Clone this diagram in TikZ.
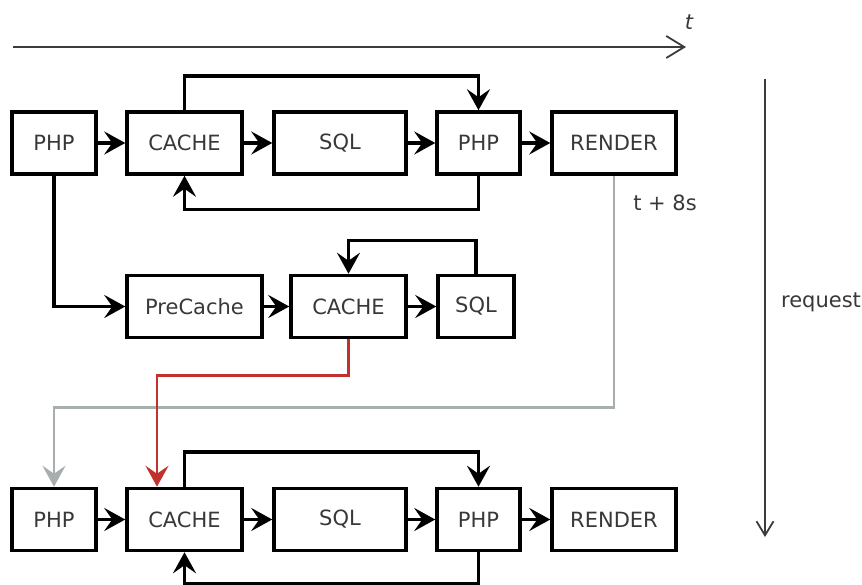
\documentclass[tikz,border=0pt]{standalone}
\usepackage{fontspec}
\setmainfont{DejaVu Sans}
\usetikzlibrary{arrows.meta}
\definecolor{txt}{HTML}{383838}
\definecolor{redc}{HTML}{C0322C}
\definecolor{grayc}{HTML}{A8AEAE}
\definecolor{axis}{HTML}{3C3C3C}
\begin{document}
\begin{tikzpicture}[x=1pt,y=-1pt,
  box/.style={draw=black, line width=3.5pt, minimum height=62pt, inner sep=0pt,
    font=\fontsize{21}{25}\selectfont, text=txt},
  conn/.style={line width=3.5pt, -{Stealth[length=21pt,width=23pt,inset=8pt]}},
  redconn/.style={draw=redc, line width=2.8pt, -{Stealth[length=21pt,width=23pt,inset=8pt]}},
  grayconn/.style={draw=grayc, line width=2.8pt, -{Stealth[length=21pt,width=23pt,inset=8pt]}},
  axisline/.style={draw=axis, line width=1.8pt, -{Straight Barb[length=18pt,width=22pt,line width=1.8pt]}},
  lbl/.style={font=\fontsize{21}{25}\selectfont, text=txt, inner sep=0pt}
]
\useasboundingbox (0,0) rectangle (862,585);

% time axis
\coordinate (tl0) at (13,47);
\coordinate (tl1) at (686,47);
\draw[axisline] (tl0) -- (tl1);
\node[lbl, font=\fontsize{21}{25}\selectfont\itshape] (tlab) at (689,22) {t};

% request axis
\coordinate (rq0) at (765,79);
\coordinate (rq1) at (765,537);
\draw[axisline, -{Straight Barb[length=14pt,width=17pt,line width=1.8pt]}] (rq0) -- (rq1);
\node[lbl] (rqlab) at (821,302) {request};

\node[lbl] (t8) at (665,203) {t + 8s};

% row 1
\node[box, minimum width=84pt]  (p1) at (54,143)    {PHP};
\node[box, minimum width=115pt] (c1) at (184.5,143) {CACHE};
\node[box, minimum width=132pt] (s1) at (340,143)   {SQL};
\node[box, minimum width=83pt]  (h1) at (478.5,143) {PHP};
\node[box, minimum width=124pt] (r1) at (614,143)   {RENDER};

% row 2
\node[box, minimum width=135pt] (pc) at (194.5,306.5) {PreCache};
\node[box, minimum width=115pt] (c2) at (348.5,306.5) {CACHE};
\node[box, minimum width=76pt]  (s2) at (476,306.5)   {SQL};

% row 3
\node[box, minimum width=84pt]  (p3) at (54,519.5)    {PHP};
\node[box, minimum width=115pt] (c3) at (184.5,519.5) {CACHE};
\node[box, minimum width=132pt] (s3) at (340,519.5)   {SQL};
\node[box, minimum width=83pt]  (h3) at (478.5,519.5) {PHP};
\node[box, minimum width=124pt] (r3) at (614,519.5)   {RENDER};

% row 1 connectors
\draw[conn] (p1) -- (c1);
\draw[conn] (c1) -- (s1);
\draw[conn] (s1) -- (h1);
\draw[conn] (h1) -- (r1);
\draw[conn] (c1.north) -- ++(0,-34) -| (h1.north);
\draw[conn] (h1.south) -- ++(0,34) -| (c1.south);

% row 2 connectors
\draw[conn] (p1.south) |- (pc.west);
\draw[conn] (pc) -- (c2);
\draw[conn] (c2) -- (s2);
\draw[conn] (s2.north) -- ++(0,-33) -| (c2.north);

% row 3 connectors
\draw[conn] (p3) -- (c3);
\draw[conn] (c3) -- (s3);
\draw[conn] (s3) -- (h3);
\draw[conn] (h3) -- (r3);
\draw[conn] (c3.north) -- ++(0,-35) -| (h3.north);
\draw[conn] (h3.south) -- ++(0,31) -| (c3.south);

% cross-row connectors
\draw[grayconn] (r1.south) -- ++(0,232) -| (p3.north);
\draw[redconn] (c2.south) -- ++(0,36) -| ([xshift=-27.5pt]c3.north);
\end{tikzpicture}
\end{document}
